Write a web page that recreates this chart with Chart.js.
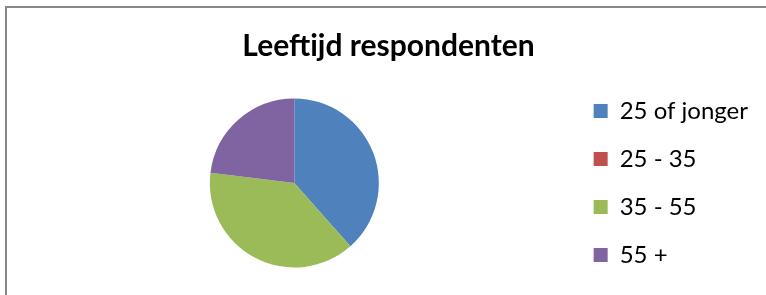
<!DOCTYPE html>
<html>
<head>
<meta charset="utf-8">
<script src="https://cdn.jsdelivr.net/npm/chart.js@4.4.0/dist/chart.umd.min.js"></script>
<style>
  html, body { margin: 0; padding: 0; background: #fff; overflow: hidden; width: 766px; height: 295px; }
  #frame { position: absolute; left: 5px; top: 6px; width: 800px; height: 320px; border: 2px solid #888; box-sizing: border-box; background: #fff; }
  #chart { position: absolute; left: 0px; top: 0px; }
</style>
</head>
<body>
<div id="frame">
  <canvas id="chart" width="770" height="300"></canvas>
</div>
<script>
// leeftijdscategorieën en aantallen
const categories = ['25 of jonger', '25 - 35', '35 - 55', '55 +'];
const counts = [5, 0, 5, 3];
const colors = ['#4F81BD', '#C0504D', '#9BBB59', '#8064A2'];
const chartTitle = 'Leeftijd respondenten';

const FONT = "Lato, 'Open Sans', sans-serif";

document.addEventListener("DOMContentLoaded", () => {
    const ctx = document.getElementById('chart').getContext('2d');
    new Chart(ctx, {
        type: 'pie',
        data: {
            labels: categories,
            datasets: [{
                data: counts,
                backgroundColor: colors,
                borderWidth: 0
            }]
        },
        options: {
            responsive: false,
            animation: false,
            radius: 84.5,
            layout: {
                padding: { left: 12, right: 19, top: 0, bottom: 10 }
            },
            plugins: {
                title: {
                    display: true,
                    text: chartTitle,
                    color: '#000',
                    font: { family: FONT, size: 30, weight: 'bold' },
                    padding: { top: 20, bottom: 4 }
                },
                legend: {
                    position: 'right',
                    fullSize: false,
                    labels: {
                        color: '#000',
                        font: { family: FONT, size: 24 },
                        boxWidth: 14,
                        boxHeight: 14,
                        padding: 24
                    }
                },
                tooltip: { enabled: false }
            }
        }
    });
});
</script>
</body>
</html>
